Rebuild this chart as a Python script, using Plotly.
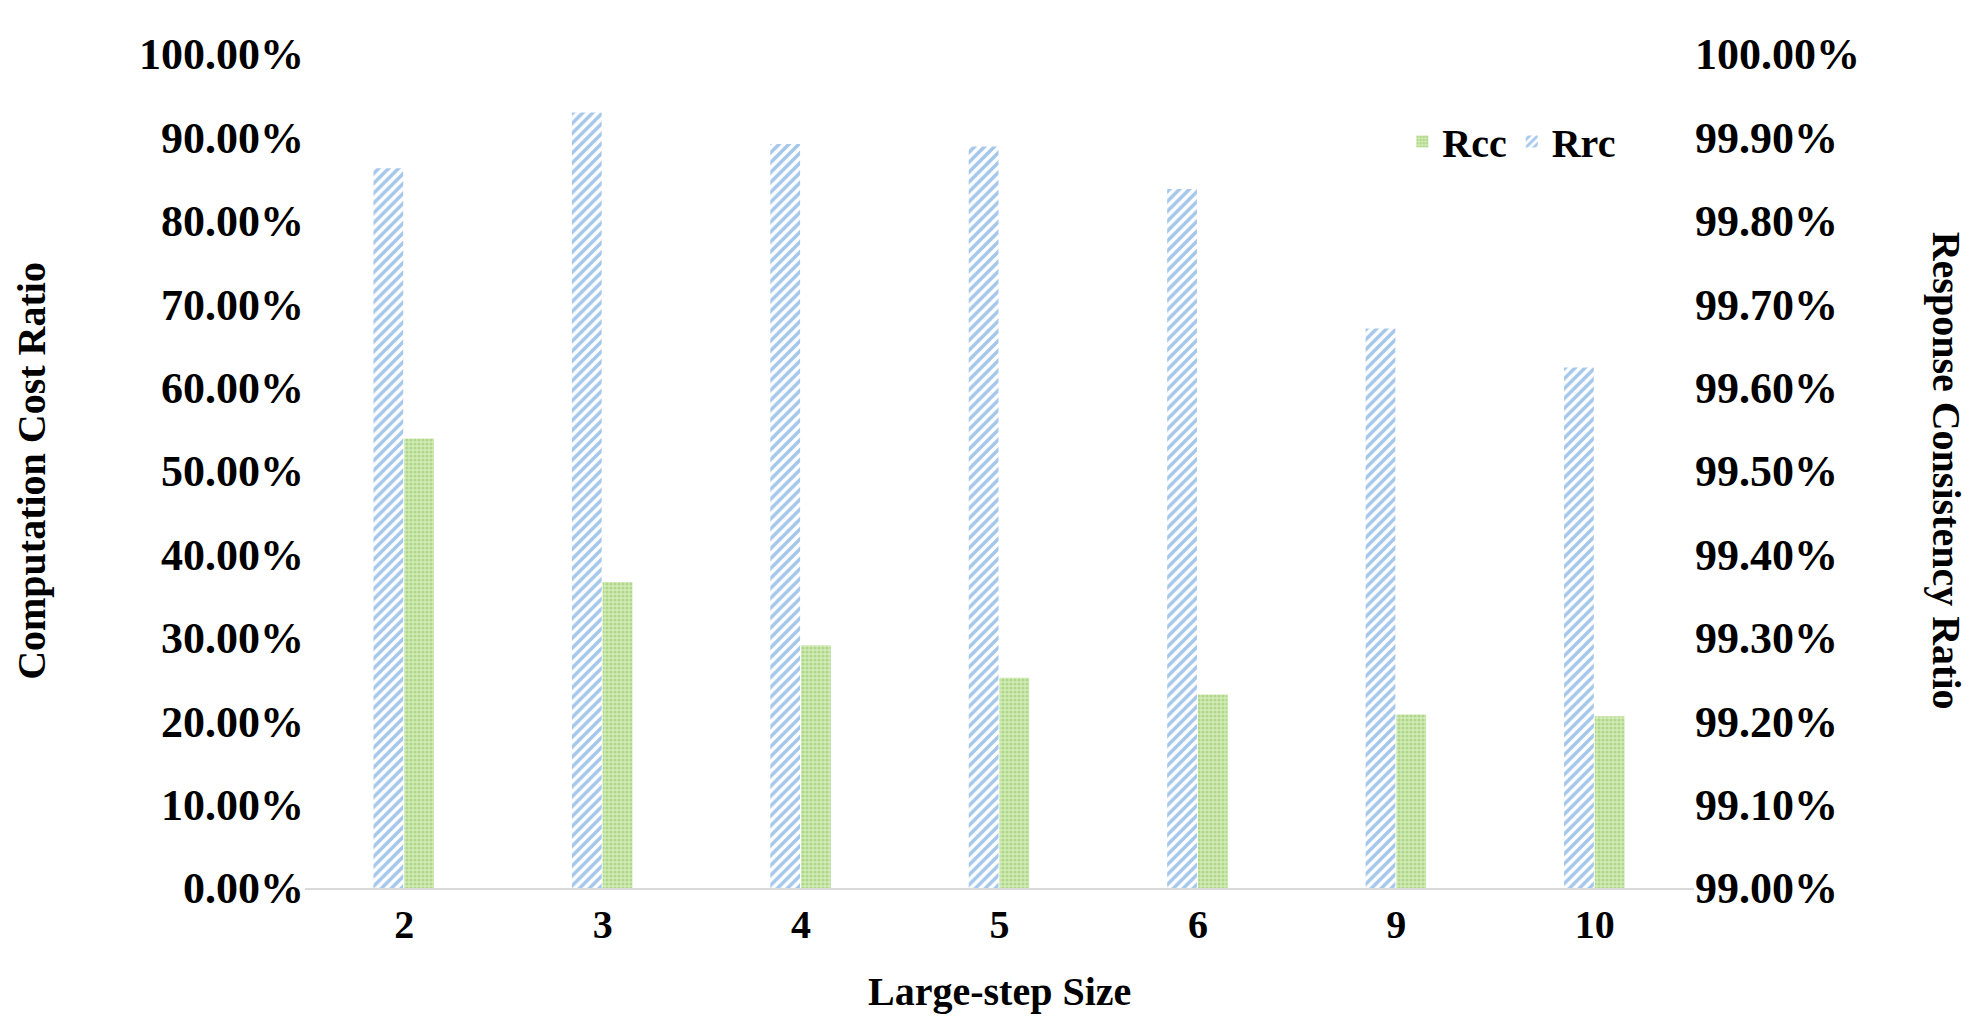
import plotly.graph_objects as go

categories = ["2", "3", "4", "5", "6", "9", "10"]
rcc = [0.539, 0.367, 0.291, 0.252, 0.232, 0.208, 0.206]
rrc = [0.99863, 0.99930, 0.99892, 0.99889, 0.99838, 0.99671, 0.99624]
left_ticks = [i / 10 for i in range(11)]
right_ticks = [0.99 + i / 1000 for i in range(11)]

F = "Liberation Serif"
fig = go.Figure()
fig.add_trace(go.Bar(x=categories, y=rcc, name="<b>Rcc</b>", yaxis="y", offsetgroup="a",
                     offset=0.0, width=0.15,
                     marker=dict(color="#b5d98f", line=dict(width=0),
                                 pattern=dict(shape=".", fgcolor="#8cc45a", bgcolor="#d3ebb8", size=4, solidity=0.5))))
fig.add_trace(go.Bar(x=categories, y=rrc, name="<b>Rrc</b>", yaxis="y2", offsetgroup="b",
                     offset=-0.155, width=0.15,
                     marker=dict(color="#4a8fd6", line=dict(width=0),
                                 pattern=dict(shape="/", fgcolor="#4a8fd6", bgcolor="white", size=7, solidity=0.5))))
fig.update_layout(
    width=1980, height=1018, plot_bgcolor="white", paper_bgcolor="white",
    margin=dict(l=297, r=294, t=46, b=138),
    font=dict(family=F, size=44, color="black"),
    xaxis=dict(tickvals=categories, ticktext=[f"<b>{c}</b>" for c in categories],
               showline=True, linecolor="#d9d9d9", linewidth=2, ticks="", tickfont=dict(size=40)),
    yaxis=dict(range=[0, 1], tickvals=left_ticks,
               ticktext=[f"<b>{v*100:.2f}%</b>" for v in left_ticks],
               showgrid=False, zeroline=False),
    yaxis2=dict(overlaying="y", side="right", range=[0.99, 1.0], tickvals=right_ticks,
                ticktext=[f"<b>{v*100:.2f}%</b>" for v in right_ticks],
                showgrid=False, zeroline=False),
    legend=dict(orientation="h", x=0.79, y=0.895, xanchor="left", yanchor="middle",
                font=dict(size=40), bgcolor="rgba(0,0,0,0)"),
    annotations=[
        dict(text="<b>Large-step Size</b>", xref="paper", yref="paper", x=0.5, y=-0.095,
             showarrow=False, yanchor="top", font=dict(size=40)),
        dict(text="<b>Computation Cost Ratio</b>", xref="paper", yref="paper", x=-0.215, y=0.5,
             showarrow=False, textangle=-90, font=dict(size=40)),
        dict(text="<b>Response Consistency Ratio</b>", xref="paper", yref="paper", x=1.2, y=0.5,
             showarrow=False, textangle=90, font=dict(size=40)),
    ],
    bargap=0.2,
)
fig.write_html("out.html")
